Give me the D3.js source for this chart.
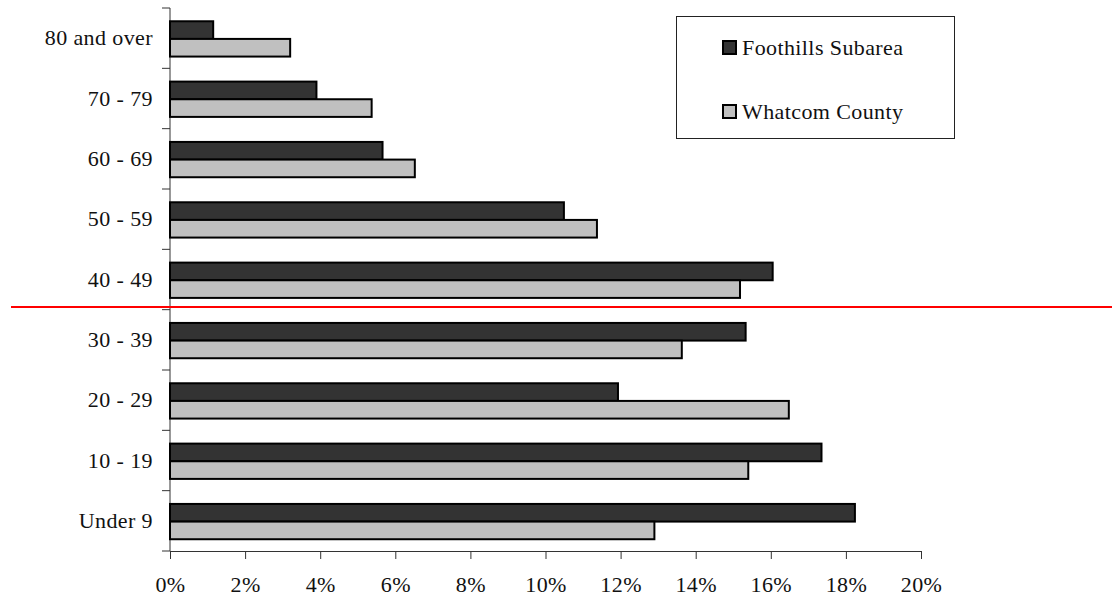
<!DOCTYPE html>
<html>
<head>
<meta charset="utf-8">
<script src="https://cdn.jsdelivr.net/npm/d3@7/dist/d3.min.js"></script>
<style>
  body { margin: 0; background: #fff; }
  svg text { font-family: "Liberation Serif", "Times New Roman", serif; fill: #111; letter-spacing: 0.4px; }
</style>
</head>
<body>
<svg id="chart" width="1112" height="599"></svg>
<script>
// age groups, top to bottom
var ageGroups = ["80 and over", "70 - 79", "60 - 69", "50 - 59", "40 - 49", "30 - 39", "20 - 29", "10 - 19", "Under 9"];
var seriesNames = ["Foothills Subarea", "Whatcom County"];
var foothills = [1.15, 3.9, 5.66, 10.49, 16.05, 15.33, 11.93, 17.35, 18.24];
var whatcom = [3.2, 5.37, 6.52, 11.37, 15.18, 13.63, 16.48, 15.4, 12.9];
var xTicks = [0, 2, 4, 6, 8, 10, 12, 14, 16, 18, 20];

var colors = { "Foothills Subarea": "#333333", "Whatcom County": "#c0c0c0" };

var svg = d3.select("#chart");
var plotLeft = 170, plotRight = 921, plotTop = 8, plotBottom = 551;

var x = d3.scaleLinear().domain([0, 20]).range([plotLeft, plotRight]);
var y = d3.scaleBand().domain(ageGroups).range([plotTop, plotBottom]).padding(0);
var sub = d3.scaleBand().domain(seriesNames)
    .range([y.bandwidth() * 0.22, y.bandwidth() * 0.805]);

var rows = ageGroups.map(function(g, i) {
  return { group: g, values: [
    { name: seriesNames[0], v: foothills[i] },
    { name: seriesNames[1], v: whatcom[i] }
  ]};
});

// x axis
var xAxis = svg.append("g")
    .attr("transform", "translate(0," + plotBottom + ")")
    .call(d3.axisBottom(x).tickValues(xTicks).tickSize(8).tickSizeOuter(0)
      .tickFormat(function(d) { return d + "%"; }));
xAxis.select(".domain").attr("stroke", "#333");
xAxis.selectAll(".tick line").attr("stroke", "#333");
xAxis.selectAll("text")
    .attr("font-size", 22)
    .attr("dy", 0)
    .attr("y", 41)
    .style("font-family", '"Liberation Serif", serif')
    .attr("fill", "#111");

// y axis: ticks at band edges
var yAxisG = svg.append("g");
yAxisG.append("line")
    .attr("x1", plotLeft).attr("x2", plotLeft)
    .attr("y1", plotTop).attr("y2", plotBottom)
    .attr("stroke", "#333");
var edges = ageGroups.map(function(g) { return y(g); }).concat([plotBottom]);
yAxisG.selectAll(".ytick").data(edges).enter().append("line")
    .attr("x1", plotLeft - 8).attr("x2", plotLeft)
    .attr("y1", function(d) { return d; })
    .attr("y2", function(d) { return d; })
    .attr("stroke", "#333");
yAxisG.selectAll(".ylabel").data(ageGroups).enter().append("text")
    .attr("x", plotLeft - 17)
    .attr("y", function(d) { return y(d) + y.bandwidth() / 2 + 7; })
    .attr("text-anchor", "end")
    .attr("font-size", 22)
    .text(function(d) { return d; });

// bars
var grp = svg.selectAll(".row").data(rows).enter().append("g")
    .attr("transform", function(d) { return "translate(0," + y(d.group) + ")"; });
grp.selectAll("rect").data(function(d) { return d.values; }).enter().append("rect")
    .attr("x", x(0))
    .attr("y", function(d) { return sub(d.name); })
    .attr("width", function(d) { return x(d.v) - x(0); })
    .attr("height", sub.bandwidth())
    .attr("fill", function(d) { return colors[d.name]; })
    .attr("stroke", "#000")
    .attr("stroke-width", 2);

// legend
var legend = svg.append("g");
legend.append("rect")
    .attr("x", 676.5).attr("y", 16.5)
    .attr("width", 278).attr("height", 122)
    .attr("fill", "#fff").attr("stroke", "#222").attr("stroke-width", 1);
var li = legend.selectAll(".li").data(seriesNames).enter().append("g")
    .attr("transform", function(d, i) { return "translate(723," + (41 + i * 64) + ")"; });
li.append("rect")
    .attr("width", 13).attr("height", 13)
    .attr("fill", function(d) { return colors[d]; })
    .attr("stroke", "#000").attr("stroke-width", 2);
li.append("text")
    .attr("x", 19).attr("y", 14)
    .attr("font-size", 22)
    .text(function(d) { return d; });

// red divider line
svg.append("line")
    .attr("x1", 11).attr("x2", 1112)
    .attr("y1", 307).attr("y2", 307)
    .attr("stroke", "#ff0000").attr("stroke-width", 2);
</script>
</body>
</html>
